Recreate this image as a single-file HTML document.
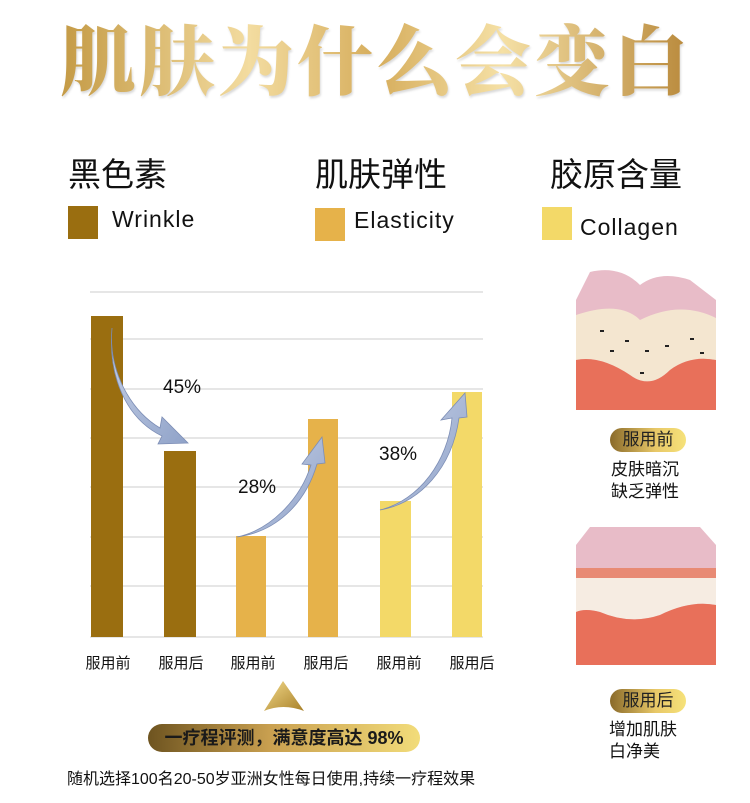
<!DOCTYPE html>
<html><head><meta charset="utf-8"><style>
body{margin:0;width:750px;height:803px;background:#fff;position:relative;overflow:hidden;font-family:"Liberation Sans","Noto Sans CJK SC",sans-serif;color:#111}
.a{position:absolute;white-space:nowrap}
.title{left:60px;top:14px;font-family:"Noto Serif CJK SC",serif;font-weight:900;font-size:76px;letter-spacing:3px;line-height:86px;background:linear-gradient(90deg,#c49a45,#f3dca0 30%,#d6ad5c 50%,#f5e0a5 70%,#b8883a);-webkit-background-clip:text;background-clip:text;color:transparent;filter:drop-shadow(1px 2px 1px rgba(0,0,0,.15))}
.h{font-size:33px;top:155px;line-height:40px}
.sw{width:30px;height:33px}
.lt{font-size:23px;letter-spacing:1px}
.badge{width:76px;height:24px;border-radius:12px;background:linear-gradient(90deg,#8a6a2a,#e8c868 60%,#f6e27a);font-size:17px;line-height:24px;text-align:center;color:#222}
.rt{font-size:17px;line-height:22px}
.xl{font-size:15px;top:652px;width:80px;text-align:center}
.pc{font-size:19px}
</style></head><body>
<div class="a title">肌肤为什么会变白</div>
<div class="a h" style="left:68px">黑色素</div>
<div class="a h" style="left:315px">肌肤弹性</div>
<div class="a h" style="left:550px">胶原含量</div>
<div class="a sw" style="left:68px;top:206px;background:#9a6e10"></div>
<div class="a lt" style="left:112px;top:206px">Wrinkle</div>
<div class="a sw" style="left:315px;top:208px;background:#e6b24a"></div>
<div class="a lt" style="left:354px;top:207px">Elasticity</div>
<div class="a sw" style="left:542px;top:207px;background:#f3d968"></div>
<div class="a lt" style="left:580px;top:214px">Collagen</div>

<svg class="a" style="left:0;top:0" width="750" height="803">
<defs><linearGradient id="ar" x1="0" y1="0" x2="1" y2="1"><stop offset="0" stop-color="#c8d2e8"/><stop offset="1" stop-color="#8fa2c8"/></linearGradient>
<linearGradient id="tri" x1="0" y1="0" x2="1" y2="1"><stop offset="0" stop-color="#f2d98a"/><stop offset="1" stop-color="#a88028"/></linearGradient></defs>
<g stroke="#ccc" stroke-width="1">
<line x1="90" y1="292" x2="483" y2="292"/><line x1="90" y1="339" x2="483" y2="339"/><line x1="90" y1="389" x2="483" y2="389"/><line x1="90" y1="438" x2="483" y2="438"/><line x1="90" y1="487" x2="483" y2="487"/><line x1="90" y1="537" x2="483" y2="537"/><line x1="90" y1="586" x2="483" y2="586"/><line x1="90" y1="637" x2="483" y2="637"/></g>
<rect x="91" y="316" width="32" height="321" fill="#9a6e10"/>
<rect x="164" y="451" width="32" height="186" fill="#9a6e10"/>
<rect x="236" y="536" width="30" height="101" fill="#e6b24a"/>
<rect x="308" y="419" width="30" height="218" fill="#e6b24a"/>
<rect x="380" y="501" width="31" height="136" fill="#f3d968"/>
<rect x="452" y="392" width="30" height="245" fill="#f3d968"/>
<path d="M112,328 C108,370 130,410 160,428 L162,417 L188,443 L158,444 L162,436 C125,418 108,375 112,328 Z" fill="url(#ar)" stroke="#7c8db5" stroke-width=".8"/>
<path d="M237,537 C270,530 300,500 311,465 L302,464 L322,437 L325,463 L317,464 C305,505 275,532 237,537 Z" fill="url(#ar)" stroke="#7c8db5" stroke-width=".8"/>
<path d="M380,510 C420,500 448,460 452,418 L441,420 L465,393 L467,417 L459,418 C452,468 420,503 380,510 Z" fill="url(#ar)" stroke="#7c8db5" stroke-width=".8"/>
<path d="M283,681 L264,711 Q283,703 304,711 Z" fill="url(#tri)"/>
<g>
<path d="M576,300 L590,272 Q620,265 640,285 Q660,270 690,280 L716,300 L716,410 L576,410 Z" fill="#e8bcc8"/>
<path d="M576,315 Q620,300 640,320 Q680,300 716,318 L716,360 Q690,355 670,370 Q650,390 630,375 Q600,355 576,360 Z" fill="#f4e6d0"/>
<path d="M576,360 Q600,355 630,375 Q650,390 670,370 Q690,355 716,360 L716,410 L576,410 Z" fill="#e8705a"/>
<g fill="#222"><rect x="600" y="330" width="4" height="2"/><rect x="625" y="340" width="4" height="2"/><rect x="645" y="350" width="4" height="2"/><rect x="665" y="345" width="4" height="2"/><rect x="690" y="338" width="4" height="2"/><rect x="610" y="350" width="4" height="2"/><rect x="640" y="372" width="4" height="2"/><rect x="700" y="352" width="4" height="2"/></g>
</g>
<g>
<path d="M576,545 L590,527 L700,527 L716,545 L716,665 L576,665 Z" fill="#e8bcc8"/>
<rect x="576" y="568" width="140" height="10" fill="#e88a74"/>
<path d="M576,578 L716,578 L716,605 Q690,600 660,615 Q630,625 600,612 Q585,608 576,612 Z" fill="#f6ece2"/>
<path d="M576,612 Q585,608 600,612 Q630,625 660,615 Q690,600 716,605 L716,665 L576,665 Z" fill="#e8705a"/>
</g>
</svg>

<div class="a pc" style="left:163px;top:377px">45%</div>
<div class="a pc" style="left:238px;top:477px">28%</div>
<div class="a pc" style="left:379px;top:444px">38%</div>
<div class="a xl" style="left:68px">服用前</div>
<div class="a xl" style="left:141px">服用后</div>
<div class="a xl" style="left:213px">服用前</div>
<div class="a xl" style="left:286px">服用后</div>
<div class="a xl" style="left:359px">服用前</div>
<div class="a xl" style="left:432px">服用后</div>

<div class="a badge" style="left:610px;top:428px">服用前</div>
<div class="a rt" style="left:611px;top:459px">皮肤暗沉<br>缺乏弹性</div>
<div class="a badge" style="left:610px;top:689px">服用后</div>
<div class="a rt" style="left:609px;top:719px">增加肌肤<br>白净美</div>

<div class="a" style="left:148px;top:724px;width:272px;height:28px;border-radius:14px;background:linear-gradient(90deg,#6e5420,#c9a050 45%,#f2dc7a);font-size:18px;font-weight:bold;line-height:28px;text-align:center;color:#1a1a1a">一疗程评测，满意度高达 98%</div>
<div class="a" style="left:67px;top:765px;font-size:16px">随机选择100名20-50岁亚洲女性每日使用,持续一疗程效果</div>
</body></html>
